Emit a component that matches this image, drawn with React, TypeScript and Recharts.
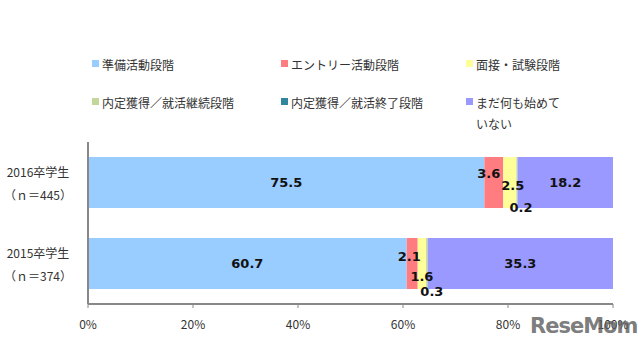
import React from "react";
import { BarChart, Bar, XAxis, YAxis, LabelList } from "recharts";

const categories = ["2016卒学生", "2015卒学生"];
const sampleSizes = ["（ｎ＝445）", "（ｎ＝374）"];
const seriesNames = [
  "準備活動段階",
  "エントリー活動段階",
  "面接・試験段階",
  "内定獲得／就活継続段階",
  "内定獲得／就活終了段階",
  "まだ何も始めていない",
];
const prep = [75.5, 60.7];
const entry = [3.6, 2.1];
const interview = [2.5, 1.6];
const offerContinue = [0.2, 0.3];
const offerDone = [0, 0];
const notStarted = [18.2, 35.3];
const xTicks = [0, 20, 40, 60, 80, 100];

const seriesValues = [prep, entry, interview, offerContinue, offerDone, notStarted];
const colors = ["#99CCFF", "#FF7C80", "#FFFF99", "#C4D79B", "#31859C", "#9999FF"];

// label nudges for the thin segments, [row][dx, dy]
const labelNudge: Record<number, [number, number][]> = {
  1: [[-5, -9], [-3, -7]],
  2: [[3, 3], [0, 13]],
  3: [[4, 25], [5, 28]],
};

const FONT = "'Noto Sans CJK JP', 'DejaVu Sans', sans-serif";

const data = categories.map((name, i) => {
  const row: Record<string, string | number> = { name, n: sampleSizes[i] };
  seriesNames.forEach((s, k) => {
    row[s] = seriesValues[k][i];
  });
  return row;
});

const YTick = (props: any) => {
  const { x, y, payload, index } = props;
  return (
    <g>
      <text x={x - 42} y={y - 6} textAnchor="middle" fontSize={12} fill="#333" fontFamily={FONT}>
        {payload.value}
      </text>
      <text x={x - 42} y={y + 17} textAnchor="middle" fontSize={12} fill="#333" fontFamily={FONT}>
        {sampleSizes[index]}
      </text>
    </g>
  );
};

const makeLabel = (k: number) => (props: any) => {
  const { x, y, width, height, value, index } = props;
  if (!value) return null;
  const nudge = labelNudge[k] ? labelNudge[k][index] : [0, 0];
  return (
    <text
      x={x + width / 2 + nudge[0]}
      y={y + height / 2 + nudge[1]}
      textAnchor="middle"
      dominantBaseline="central"
      fontSize={13}
      fontWeight="bold"
      fill="#111"
      fontFamily="'DejaVu Sans', sans-serif"
    >
      {value.toFixed(1)}
    </text>
  );
};

const legendPos = [
  [92, 62],
  [281, 62],
  [466, 62],
  [92, 100],
  [281, 100],
  [466, 100],
];

const LegendBlock = () => (
  <>
    {seriesNames.map((s, k) => (
      <div
        key={s}
        style={{
          position: "absolute",
          left: legendPos[k][0],
          top: legendPos[k][1] - 8,
          display: "flex",
          alignItems: "flex-start",
          fontFamily: FONT,
          fontSize: 12,
          color: "#333",
          lineHeight: "21px",
        }}
      >
        <span
          style={{
            width: 7,
            height: 7,
            background: colors[k],
            marginTop: 6,
            marginRight: 3,
            display: "inline-block",
          }}
        />
        <span style={{ whiteSpace: "pre" }}>
          {k === 5 ? "まだ何も始めて\nいない" : s}
        </span>
      </div>
    ))}
  </>
);

export default function App() {
  return (
    <div style={{ position: "absolute", left: 0, top: 0, width: 640, height: 351, background: "#fff" }}>
      <LegendBlock />
      <BarChart
        width={640}
        height={351}
        data={data}
        layout="vertical"
        margin={{ top: 142, right: 27, bottom: 0, left: 8 }}
      >
        <XAxis
          type="number"
          domain={[0, 100]}
          ticks={xTicks}
          tickFormatter={(v) => `${v}%`}
          axisLine={{ stroke: "#888", strokeWidth: 2 }}
          tickLine={{ stroke: "#888" }}
          tickSize={4}
          tick={{ fontSize: 12, fill: "#333", fontFamily: FONT, dy: 10 }}
          height={47}
        />
        <YAxis
          type="category"
          dataKey="name"
          width={80}
          axisLine={{ stroke: "#888", strokeWidth: 2 }}
          tickLine={false}
          tick={<YTick />}
        />
        {seriesNames.map((s, k) => (
          <Bar key={s} dataKey={s} stackId="a" fill={colors[k]} barSize={51} isAnimationActive={false}>
            <LabelList dataKey={s} content={makeLabel(k)} />
          </Bar>
        ))}
      </BarChart>
      <div
        style={{
          position: "absolute",
          left: 530,
          top: 314,
          fontFamily: "'DejaVu Sans', sans-serif",
          fontWeight: "bold",
          fontSize: 21,
          color: "rgba(90,90,90,0.8)",
          letterSpacing: -1,
        }}
      >
        ReseMom
      </div>
    </div>
  );
}
